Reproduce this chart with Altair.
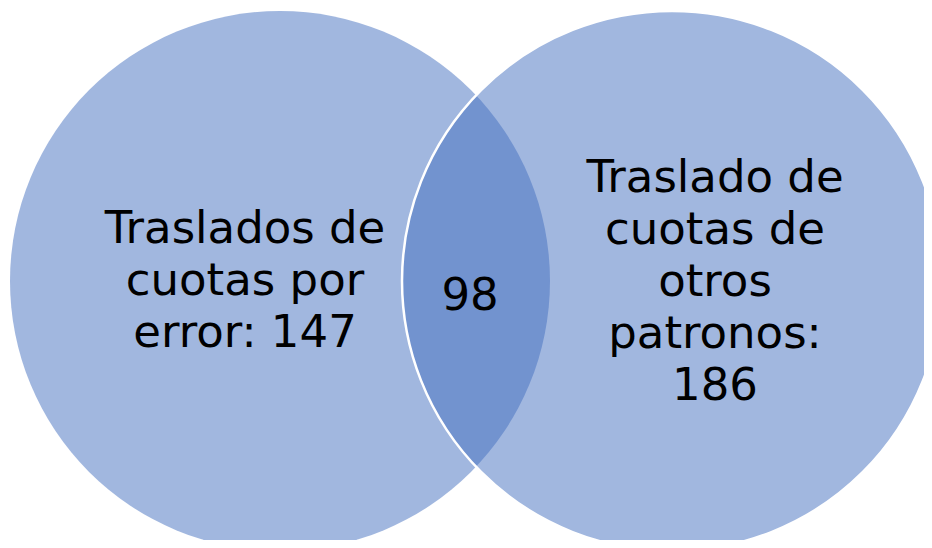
import altair as alt
import pandas as pd

# ---- data ----
set_names = ["Traslados de cuotas por error", "Traslado de cuotas de otros patronos"]
set_label_templates = [
    "Traslados de\ncuotas por\nerror: {n}",
    "Traslado de\ncuotas de\notros\npatronos:\n{n}",
]
only_counts = [147, 186]
overlap_count = 98

# ---- layout (frame of the 932x548 picture) ----
PAGE_W, PAGE_H, MARGIN = 932, 548, 8
W, H = PAGE_W - 2 * MARGIN, PAGE_H - 2 * MARGIN
circle_cx = [280, 672]
circle_cy = [281, 281]
RADIUS = 270
label_x = [245, 715]
label_y = [243, 192]          # first baseline of each block
overlap_x, overlap_y = 470, 310

circles = pd.DataFrame({
    "set": set_names,
    "x": circle_cx,
    "y": circle_cy,
    "id": [0, 1],
})
labels = pd.DataFrame({
    "text": [t.format(n=n) for t, n in zip(set_label_templates, only_counts)] + [str(overlap_count)],
    "x": label_x + [overlap_x],
    "y": label_y + [overlap_y],
})

xs = alt.X("x:Q", axis=None,
           scale=alt.Scale(domain=[MARGIN, MARGIN + W], range=[0, W], nice=False, zero=False))
ys = alt.Y("y:Q", axis=None,
           scale=alt.Scale(domain=[MARGIN, MARGIN + H], range=[0, H], nice=False, zero=False))

# Vega symbol size: circle radius = sqrt(size) / 2
area = (2 * RADIUS) ** 2
BLUE = "#4370C0"

left = alt.Chart(circles).transform_filter("datum.id == 0").mark_circle(
    size=area, color=BLUE, opacity=1, fillOpacity=0.5, strokeWidth=0
).encode(x=xs, y=ys)

right = alt.Chart(circles).transform_filter("datum.id == 1").mark_circle(
    size=area, fill=BLUE, opacity=1, fillOpacity=0.5,
    stroke="white", strokeWidth=2.5, strokeOpacity=1
).encode(x=xs, y=ys)

text = alt.Chart(labels).mark_text(
    font="DejaVu Sans", fontSize=45, lineHeight=52, lineBreak="\n",
    align="center", baseline="alphabetic", color="black"
).encode(x=xs, y=ys, text="text:N")

chart = alt.layer(left, right, text).properties(
    width=W, height=H, padding=0, autosize=alt.AutoSizeParams(type="none"),
    background="white"
).configure_view(stroke=None)

chart.save("out.html", embed_options={"renderer": "svg", "actions": False})
